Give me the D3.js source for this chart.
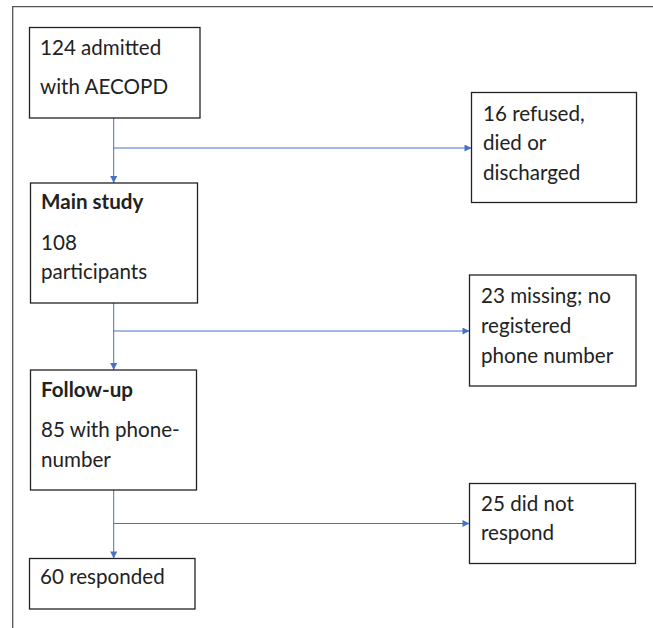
<!DOCTYPE html>
<html>
<head>
<meta charset="utf-8">
<script src="https://cdn.jsdelivr.net/npm/d3@7"></script>
<style>
body { margin: 0; background: #fff; }
text { font-family: Lato, "Open Sans", sans-serif; fill: #222; }
</style>
</head>
<body>
<div class="container"></div>
<script>
var width = 653;
var height = 628;

// flow steps (left column) and exclusions (right column)
var stepTitles = ['', 'Main study', 'Follow-up', ''];
var stepLines = [
  ['124 admitted', 'with AECOPD'],
  ['108', 'participants'],
  ['85 with phone-', 'number'],
  ['60 responded']
];
var exclusionLines = [
  ['16 refused,', 'died or', 'discharged'],
  ['23 missing; no', 'registered', 'phone number'],
  ['25 did not', 'respond']
];

// layout
var stepBoxes = [
  {x0: 29.5, x1: 200, y0: 27.5, y1: 118, base: [55, 94]},
  {x0: 30.5, x1: 197.5, y0: 183, y1: 303, title: 209, base: [250, 279]},
  {x0: 30.5, x1: 196.5, y0: 370, y1: 490, title: 397, base: [437, 467]},
  {x0: 29.5, x1: 195, y0: 558.5, y1: 609, base: [584]}
];
var exclBoxes = [
  {x0: 471.5, x1: 636.5, y0: 92.5, y1: 202.5, base: [120.5, 150, 179.5]},
  {x0: 469.5, x1: 636, y0: 275, y1: 386, base: [303, 333, 362.5]},
  {x0: 469.5, x1: 635.5, y0: 483.5, y1: 563.5, base: [510.5, 539.5]}
];
var branchY = [148, 331, 523.5];
var trunkX = 113.7;
var fontSize = 20.6;

var translate = function(x, y) {
    return 'translate(' + x + ',' + y + ')';
}

var draw = function() {
  var svg = d3.select('.container').append('svg')
    .attr('width', width)
    .attr('height', height);

  svg.append('defs').append('marker')
    .attr('id', 'arrow')
    .attr('viewBox', '0 0 10 10')
    .attr('refX', 10).attr('refY', 5)
    .attr('markerWidth', 8).attr('markerHeight', 7)
    .attr('markerUnits', 'userSpaceOnUse')
    .attr('orient', 'auto')
    .append('path')
    .attr('d', 'M0,0L10,5L0,10Z')
    .attr('fill', '#4472c4');

  // outer frame (top and left edges visible)
  svg.append('path')
    .attr('d', 'M12.7,' + height + 'V6.7H' + width)
    .attr('fill', 'none')
    .attr('stroke', '#555')
    .attr('stroke-width', 1.3);

  var line = d3.line().x(function(d) { return d[0]; }).y(function(d) { return d[1]; });

  // connectors
  var links = svg.append('g').attr('fill', 'none').attr('stroke', '#4472c4').attr('stroke-width', 1);
  for (var i = 0; i < 3; i++) {
    links.append('path')
      .attr('d', line([[trunkX, stepBoxes[i].y1], [trunkX, stepBoxes[i + 1].y0]]))
      .attr('marker-end', 'url(#arrow)');
    links.append('path')
      .attr('d', line([[trunkX, branchY[i]], [exclBoxes[i].x0, branchY[i]]]))
      .attr('marker-end', 'url(#arrow)');
  }

  var drawBoxes = function(boxes, lines, titles, textX) {
    var g = svg.append('g').selectAll('g').data(boxes).enter().append('g');
    g.append('rect')
      .attr('x', function(d) { return d.x0; })
      .attr('y', function(d) { return d.y0; })
      .attr('width', function(d) { return d.x1 - d.x0; })
      .attr('height', function(d) { return d.y1 - d.y0; })
      .attr('fill', '#fff')
      .attr('stroke', '#222')
      .attr('stroke-width', 1.3);
    g.each(function(d, i) {
      var sel = d3.select(this);
      if (titles && titles[i]) {
        sel.append('text')
          .attr('x', d.x0 + textX)
          .attr('y', d.title)
          .attr('font-size', fontSize)
          .attr('font-weight', 'bold')
          .text(titles[i]);
      }
      lines[i].forEach(function(t, j) {
        sel.append('text')
          .attr('x', d.x0 + textX)
          .attr('y', d.base[j])
          .attr('font-size', fontSize)
          .text(t);
      });
    });
  };

  drawBoxes(stepBoxes, stepLines, stepTitles, 10.5);
  drawBoxes(exclBoxes, exclusionLines, null, 11.5);
}

window.onload = draw;
</script>
</body>
</html>
